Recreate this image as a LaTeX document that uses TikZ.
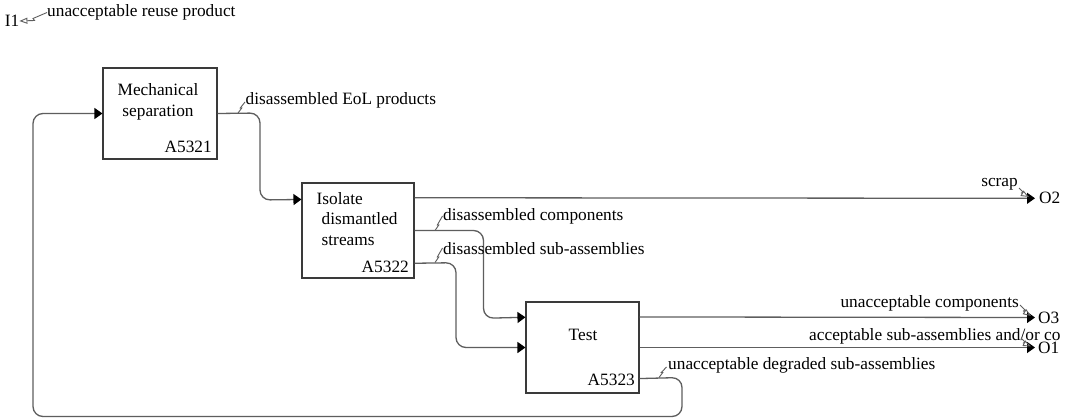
\documentclass[tikz,border=0pt]{standalone}
\usepackage{fontspec}
\setmainfont{Liberation Serif}
\usetikzlibrary{arrows.meta,calc}
\definecolor{boxgray}{HTML}{3A3A3A}
\definecolor{linegray}{HTML}{5E5E5E}
\definecolor{txt}{HTML}{000000}
\begin{document}
\begin{tikzpicture}[x=1pt,y=-1pt,
  every node/.style={font=\fontsize{17.3}{20.5}\selectfont, inner sep=0pt, text=txt},
  box/.style={draw=boxgray, line width=1.1pt, fill=white},
  conn/.style={draw=linegray, line width=1.3pt, rounded corners=10pt},
  arr/.style={-{Triangle[length=8pt,width=11pt,fill=black,color=black]}},
  squig/.style={draw=linegray, line width=0.9pt},
  osquig/.style={draw=linegray, line width=0.9pt, -{Triangle[open,length=8pt,width=6pt]}}
]
\useasboundingbox (0,0) rectangle (1065,420);
\fill[white] (0,0) rectangle (1065,420);

% boxes
\node[box, minimum width=114pt, minimum height=91pt] (A1) at (160,113.5) {};
\node[box, minimum width=112pt, minimum height=95pt] (A2) at (358,230.5) {};
\node[box, minimum width=113pt, minimum height=91pt] (A3) at (582.5,347.5) {};

% box texts
\node[align=center] (t1) at (158,102) {Mechanical\\separation};
\node[anchor=east] (n1) at (212,147) {A5321};
\node[align=left, anchor=west] (t2) at (316.5,219) {Isolate\\\hspace*{5pt}dismantled\\\hspace*{5pt}streams};
\node[anchor=east] (n2) at (409,267) {A5322};
\node (t3) at (583,335) {Test};
\node[anchor=east] (n3) at (635,380) {A5323};

% boundary labels
\node (I1) at (12,21) {I1};
\node (O2) [anchor=west] at (1039,198.3) {O2};
\node (O3) [anchor=west] at (1038,317.5) {O3};
\node (O1) [anchor=west] at (1038,347.5) {O1};
\coordinate (o2) at (1035,198.3);
\coordinate (o3) at (1035,317.5);
\coordinate (o1) at (1035,347.5);

% connectors
\coordinate (a2in) at ($(A2.north west)+(0,17)$);
\coordinate (a2scrap) at ($(A2.north east)+(0,15.3)$);
\coordinate (a2sub) at ($(A2.south east)+(0,-15.3)$);
\coordinate (a3in1) at ($(A3.north west)+(0,15.8)$);
\coordinate (a3o3) at ($(A3.north east)+(0,15.5)$);
\coordinate (a3deg) at ($(A3.south east)+(0,-15)$);

\draw[conn, arr] (A1.east) -- (260,113) -- (260,200) -- (a2in);
\draw[conn, arr] (a2scrap) -- (o2);
\draw[conn, arr] (A2.east) -- (483.5,230.5) -- (483.5,318.3) -- (a3in1);
\draw[conn, arr] (a2sub) -- (456,262.7) -- (456,347.5) -- (A3.west);
\draw[conn, arr] (a3o3) -- (o3);
\draw[conn, arr] (A3.east) -- (o1);
\draw[conn, arr] (a3deg) -- (682,377.5) -- (682,416.5) -- (33,416.5) -- (33,113.5) -- (A1.west);

% arrow labels
\node[anchor=west] (l0) at (47,12.5) {unacceptable reuse product};
\node[anchor=west] (l1) at (245.5,100.5) {disassembled EoL products};
\node[anchor=west] (l2) at (443,216.5) {disassembled components};
\node[anchor=west] (l3) at (443,249) {disassembled sub-assemblies};
\node[anchor=east] (l4) at (1018,184) {scrap};
\node[anchor=east] (l5) at (1019,303) {unacceptable components};
\node[anchor=west] (l6) at (809,336) {acceptable sub-assemblies and/or co};
\node[anchor=west] (l7) at (668,365) {unacceptable degraded sub-assemblies};

% squiggles
\draw[squig] (238,113) -- (241.8,108) -- (240.3,108) -- (245,102);
\draw[squig] (435,230.5) -- (438.8,225) -- (437.3,225) -- (442.5,216);
\draw[squig] (435,262.5) -- (438.8,257) -- (437.3,257) -- (442.5,248);
\draw[squig] (659,377.5) -- (662.8,372.5) -- (661.3,372.5) -- (666.5,367);
\draw[osquig] (47,12.5) -- (33,18.5) -- (34.5,20.5) -- (I1.east);
\draw[osquig] (1019,188) -- (1023,192) -- (1021.5,193) -- (1029,197);
\draw[osquig] (1020,305) -- (1025,310) -- (1023.5,311) -- (1031,316);
\draw[osquig] (1021,338) -- (1025,342) -- (1023.5,343) -- (1031,346.5);
\end{tikzpicture}
\end{document}
